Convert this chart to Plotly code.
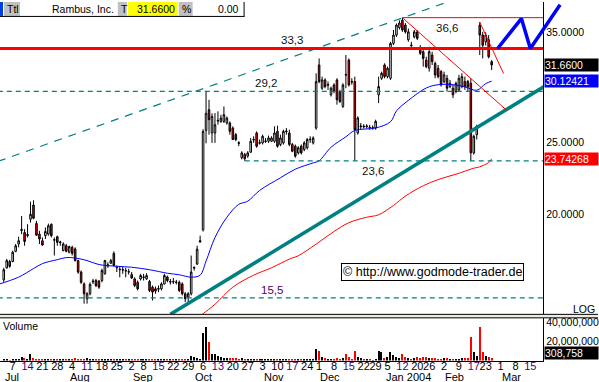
import math
import pandas as pd
import plotly.graph_objects as go

W, H = 599, 382
FONT = "Liberation Sans, Arial, sans-serif"

# ---------------- calendar (trading days) ----------------
holidays = ["2003-07-04", "2003-09-01", "2003-11-27", "2003-12-25",
            "2004-01-01", "2004-01-19", "2004-02-16"]
trading_days = [d.strftime("%Y-%m-%d") for d in pd.bdate_range("2003-06-27", "2004-03-31")]
trading_days = [d for d in trading_days if d not in holidays]
POS = {d: k for k, d in enumerate(trading_days)}

# ---------------- daily candles (Rambus, Inc.) from 2003-07-01 ----------------
first_candle = "2003-07-01"
opens = [16.38, 17.00, 17.33, 17.33, 17.88, 18.29, 19.06, 18.94, 18.76, 19.73, 20.61, 19.47, 18.85, 18.47,
         18.76, 18.85, 19.43, 18.50, 18.70, 18.36, 17.92, 18.19, 17.83, 18.10, 18.01, 17.38, 16.78, 16.18,
         15.46, 15.70, 16.28, 16.35, 16.32, 16.35, 16.69, 17.10, 17.24, 17.77, 17.00, 16.90, 16.88, 16.86,
         16.78, 16.65, 16.43, 16.26, 16.43, 16.50, 16.43, 16.30, 16.02, 15.94, 15.92, 15.94, 16.18, 16.53,
         16.27, 16.30, 16.25, 16.26, 16.18, 15.70, 15.54, 15.70, 16.98, 17.20, 18.40, 19.10, 25.90, 27.60,
         25.70, 25.70, 26.65, 26.63, 26.63, 26.50, 26.50, 26.09, 25.57, 24.95, 23.82, 24.06, 23.94, 24.23,
         25.15, 25.70, 24.90, 24.93, 25.04, 25.06, 25.06, 25.06, 25.83, 24.81, 24.93, 25.80, 25.70, 24.81,
         24.68, 24.18, 24.68, 24.43, 24.56, 25.17, 24.93, 26.09, 31.66, 29.48, 30.24, 29.75, 28.89, 29.78,
         30.24, 29.18, 27.88, 30.75, 32.14, 30.10, 30.09, 25.70, 26.20, 26.25, 26.20, 26.15, 26.10, 26.09,
         28.89, 30.39, 31.66, 30.55, 30.39, 33.82, 34.70, 35.50, 36.30, 35.78, 34.20, 33.65, 34.50, 35.04,
         33.30, 32.97, 32.14, 31.34, 32.64, 31.82, 31.34, 31.02, 30.09, 30.39, 29.63, 29.48, 29.18, 29.33,
         29.63, 30.09, 30.10, 29.93, 24.18, 25.57, 35.78, 34.70, 33.99, 34.20, 31.98]
highs = [17.00, 17.47, 17.42, 17.92, 18.29, 18.70, 19.93, 19.14, 19.43, 20.82, 20.91, 19.63, 19.04, 18.66,
         19.24, 19.47, 19.47, 18.66, 18.76, 18.47, 18.38, 18.29, 18.19, 18.19, 18.10, 17.42, 16.86, 16.26,
         15.78, 16.26, 16.43, 16.43, 16.38, 16.95, 17.42, 17.29, 17.47, 17.88, 17.12, 17.07, 17.04, 17.00,
         16.95, 16.78, 16.51, 16.35, 16.69, 16.69, 16.72, 16.38, 16.10, 16.05, 16.10, 16.26, 16.69, 16.60,
         16.43, 16.48, 16.38, 16.35, 16.26, 15.78, 15.78, 17.65, 17.07, 18.19, 18.76, 26.00, 29.20, 28.45,
         27.30, 27.32, 27.46, 27.18, 27.88, 27.04, 26.63, 26.23, 25.70, 25.06, 24.30, 24.18, 24.30, 25.31,
         25.44, 25.83, 25.19, 25.57, 25.31, 25.50, 25.44, 26.23, 26.28, 25.57, 25.96, 26.09, 25.96, 24.93,
         24.81, 24.68, 24.81, 25.06, 25.31, 25.44, 25.44, 30.86, 32.30, 30.55, 30.39, 30.09, 29.63, 29.93,
         30.39, 29.33, 29.93, 32.64, 32.30, 30.40, 30.55, 27.05, 26.50, 26.40, 26.40, 26.35, 26.30, 26.77,
         30.55, 31.02, 31.82, 31.50, 33.99, 35.24, 35.95, 36.30, 36.60, 36.00, 35.40, 33.99, 35.24, 35.24,
         33.64, 33.13, 32.47, 33.47, 32.97, 31.98, 31.66, 31.17, 31.02, 30.71, 30.24, 29.78, 30.09, 30.71,
         30.86, 30.55, 30.24, 30.39, 25.57, 26.36, 36.12, 35.04, 35.00, 34.70, 32.14]
lows = [16.26, 16.95, 17.00, 17.29, 17.83, 18.10, 18.85, 18.19, 18.66, 19.53, 19.73, 18.76, 18.29, 18.19,
        18.57, 18.76, 18.66, 17.65, 18.19, 18.19, 17.88, 17.83, 17.77, 17.65, 17.33, 16.69, 16.18, 15.23,
        15.23, 15.62, 16.18, 16.02, 15.94, 16.26, 16.65, 17.00, 17.20, 17.07, 16.78, 16.51, 16.69, 16.51,
        16.65, 16.43, 16.02, 15.86, 16.35, 16.35, 16.38, 15.78, 15.38, 15.70, 15.78, 15.86, 16.15, 16.26,
        16.15, 16.18, 16.15, 15.78, 15.62, 15.30, 15.20, 15.62, 16.86, 17.15, 18.36, 19.00, 24.90, 25.57,
        24.93, 24.93, 26.36, 26.50, 26.50, 26.36, 25.57, 25.15, 25.06, 24.68, 23.70, 23.60, 23.82, 24.18,
        24.93, 24.56, 24.81, 24.81, 24.93, 24.93, 25.00, 24.93, 24.56, 24.68, 24.81, 25.57, 24.68, 24.23,
        23.82, 24.06, 24.06, 24.30, 24.43, 24.93, 24.81, 25.96, 29.93, 29.33, 29.48, 29.33, 28.74, 29.03,
        28.03, 28.17, 27.75, 29.48, 29.63, 29.80, 23.60, 25.57, 25.96, 26.05, 26.05, 25.96, 25.96, 25.96,
        28.17, 30.24, 30.39, 30.39, 30.24, 33.65, 34.50, 35.30, 35.04, 34.85, 33.99, 33.30, 34.35, 34.17,
        32.64, 31.49, 31.34, 31.02, 31.66, 30.39, 30.39, 29.63, 29.93, 29.18, 29.48, 28.60, 29.03, 29.18,
        29.48, 29.33, 29.18, 23.60, 24.05, 25.19, 32.64, 32.30, 33.60, 32.30, 31.17]
closes = [16.90, 17.38, 17.08, 17.83, 18.19, 18.47, 19.12, 18.43, 18.82, 20.03, 19.79, 18.79, 18.57, 18.23,
          19.00, 19.34, 18.76, 18.53, 18.38, 18.40, 18.29, 17.88, 18.14, 17.77, 17.38, 16.78, 16.26, 15.70,
          15.70, 16.15, 16.32, 16.10, 16.02, 16.86, 17.38, 17.15, 17.38, 17.12, 17.03, 16.92, 16.90, 16.84,
          16.80, 16.48, 16.10, 15.94, 16.60, 16.53, 16.60, 15.86, 15.78, 15.83, 15.95, 16.18, 16.60, 16.35,
          16.30, 16.28, 16.27, 15.86, 15.70, 15.46, 15.70, 16.78, 17.02, 18.00, 18.47, 25.83, 27.30, 26.77,
          27.04, 26.36, 26.71, 26.90, 27.18, 26.90, 25.83, 25.19, 25.19, 24.90, 24.18, 23.75, 24.18, 25.06,
          25.19, 24.68, 24.95, 25.44, 25.08, 25.31, 25.31, 25.70, 24.68, 25.31, 25.83, 25.85, 24.81, 24.30,
          23.94, 24.56, 24.18, 24.93, 25.19, 25.21, 25.31, 30.09, 30.09, 30.24, 29.63, 29.80, 29.48, 29.18,
          28.46, 28.31, 29.78, 30.70, 29.78, 30.05, 25.96, 26.91, 26.25, 26.20, 26.25, 26.12, 26.12, 26.63,
          29.63, 30.86, 30.55, 31.34, 33.82, 34.70, 35.78, 36.00, 35.24, 35.04, 35.04, 33.60, 35.04, 34.35,
          32.81, 32.30, 31.49, 32.97, 31.98, 30.71, 30.55, 29.78, 30.71, 29.48, 29.93, 28.89, 29.93, 30.39,
          30.55, 29.63, 29.60, 24.18, 25.44, 26.23, 34.70, 33.64, 34.70, 32.47, 31.66]
volume_mln = [1.2, 1.0, 0.8, 1.3, 1.2, 1.5, 3.5, 2.8, 1.5, 7.5, 2.5, 2.0, 1.5, 1.3, 1.2, 1.5, 1.4, 1.2,
              1.3, 1.1, 1.2, 1.1, 1.0, 1.2, 2.5, 2.0, 2.3, 2.0, 2.5, 1.5, 1.2, 1.0, 1.1, 1.4, 1.6, 1.0,
              1.1, 2.2, 1.4, 1.1, 1.0, 1.0, 0.9, 1.2, 1.4, 1.5, 1.2, 1.0, 1.0, 1.4, 1.7, 1.3, 1.0, 1.1,
              1.5, 1.2, 1.0, 1.0, 0.9, 1.6, 1.8, 2.0, 1.6, 5.0, 3.5, 2.4, 2.0, 29.0, 36.0, 20.0, 7.6, 7.0,
              5.0, 3.5, 3.0, 3.0, 2.8, 2.5, 2.5, 2.3, 2.6, 2.0, 1.8, 2.0, 1.5, 2.2, 1.5, 1.3, 1.5, 1.2,
              1.4, 1.6, 2.0, 1.5, 1.8, 1.3, 1.6, 1.4, 1.8, 1.2, 1.4, 1.3, 1.5, 1.2, 1.4, 12.5, 10.0, 3.5,
              2.5, 2.0, 1.8, 2.0, 2.5, 2.2, 3.0, 7.5, 3.5, 2.0, 10.0, 3.5, 2.5, 1.5, 1.2, 1.0, 0.8, 1.5,
              10.0, 9.0, 2.5, 3.5, 9.0, 6.5, 3.5, 3.0, 7.5, 3.5, 2.5, 2.0, 3.0, 3.5, 3.0, 3.5, 3.5, 3.0,
              2.5, 2.5, 2.0, 2.0, 2.5, 2.5, 2.0, 1.8, 2.0, 2.0, 2.5, 2.5, 3.0, 24.5, 9.0, 5.0, 36.0, 9.3,
              5.0, 4.0, 3.0]

# ---------------- indicator lines ----------------
ma_blue_dates = ["2003-06-27", "2003-07-09", "2003-07-16", "2003-07-21", "2003-07-28", "2003-07-31",
                 "2003-08-05", "2003-08-11", "2003-08-15", "2003-08-25", "2003-09-02", "2003-09-10",
                 "2003-09-18", "2003-09-24", "2003-09-30", "2003-10-03", "2003-10-07", "2003-10-10",
                 "2003-10-16", "2003-10-22", "2003-10-27", "2003-10-31", "2003-11-11", "2003-11-18",
                 "2003-11-26", "2003-12-01", "2003-12-05", "2003-12-12", "2003-12-17", "2003-12-29",
                 "2004-01-06", "2004-01-08", "2004-01-14", "2004-01-23", "2004-01-29", "2004-02-05",
                 "2004-02-11", "2004-02-18", "2004-02-23", "2004-02-25"]
ma_blue_values = [16.15, 16.52, 16.96, 17.22, 17.43, 17.54, 17.52, 17.38, 17.17, 17.08, 17.03, 16.90,
                  16.72, 16.64, 16.52, 16.62, 17.35, 18.65, 19.85, 20.65, 20.85, 21.55, 22.4, 23.0,
                  23.45, 23.6, 24.6, 25.4, 25.9, 26.1, 26.6, 27.5, 28.4, 29.5, 29.8, 29.8, 29.6, 29.3,
                  29.9, 30.12421]
ma_red_dates = ["2003-10-02", "2003-10-06", "2003-10-10", "2003-10-20", "2003-10-29", "2003-11-06",
                "2003-11-14", "2003-11-19", "2003-11-28", "2003-12-08", "2003-12-15", "2003-12-23",
                "2003-12-30", "2004-01-07", "2004-01-13", "2004-01-22", "2004-01-29", "2004-02-06",
                "2004-02-17", "2004-02-19", "2004-02-24", "2004-02-25"]
ma_red_values = [14.57, 14.77, 15.2, 16.02, 16.62, 17.0, 17.46, 17.64, 18.28, 19.0, 19.52, 19.85, 20.0,
                 20.58, 21.18, 21.86, 22.28, 22.65, 23.07, 23.17, 23.48, 23.74268]

support_dates, support_values = ["2003-09-19", "2004-03-22"], [14.74, 29.69]
channel_dates, channel_values = ["2003-06-27", "2004-02-05"], [23.55, 38.64]
down1_dates, down1_values = ["2004-01-12", "2004-03-03"], [36.6, 27.56]
down2_dates, down2_values = ["2004-02-19", "2004-03-02"], [36.1, 30.84]
zigzag_dates = ["2004-02-27", "2004-03-10", "2004-03-15", "2004-03-29"]
zigzag_values = [33.3, 36.5, 33.3, 38.07]

level_labels = ["36,6", "33,3", "29,2", "23,6", "15,5"]
level_values = [36.6, 33.3, 29.2, 23.6, 15.5]
level_label_dates = ["2004-02-03", "2003-11-17", "2003-11-04", "2003-12-26", "2003-11-06"]
level_starts = ["2004-01-12", "2003-06-27", "2003-06-27", "2003-10-24", "2003-06-27"]
level_end = "2004-03-22"

price_ticks = [20, 25, 35]
price_tick_text = ["20.0000", "25.0000", "35.0000"]
vol_ticks = [20, 40]
vol_tick_text = ["20,000,000", "40,000,000"]

week_ticks = ["2003-07-07", "2003-07-14", "2003-07-21", "2003-07-28", "2003-08-04", "2003-08-11",
              "2003-08-18", "2003-08-25", "2003-09-02", "2003-09-08", "2003-09-15", "2003-09-22",
              "2003-09-29", "2003-10-06", "2003-10-13", "2003-10-20", "2003-10-27", "2003-11-03",
              "2003-11-10", "2003-11-17", "2003-11-24", "2003-12-01", "2003-12-08", "2003-12-15",
              "2003-12-22", "2003-12-29", "2004-01-05", "2004-01-12", "2004-01-20", "2004-01-26",
              "2004-02-02", "2004-02-09", "2004-02-17", "2004-02-23", "2004-03-01", "2004-03-08",
              "2004-03-15"]
expiry_weeks = ["2003-07-14", "2003-08-11", "2003-09-15", "2003-10-13", "2003-11-17", "2003-12-15",
                "2004-01-12", "2004-02-17", "2004-03-15"]
month_labels = ["Jul", "Aug", "Sep", "Oct", "Nov", "Dec", "Jan 2004", "Feb", "Mar"]
month_starts = ["2003-07-01", "2003-08-01", "2003-09-02", "2003-10-01", "2003-11-03", "2003-12-01",
                "2004-01-02", "2004-02-02", "2004-03-01"]

last_close, last_ma_blue, last_ma_red, last_volume = 31.66, 30.12421, 23.74268, "308,758"

# ---------------- geometry ----------------
def px(x):
    return x / W

def py(y):
    return 1 - y / H

def X(dates):
    return [POS[d] for d in dates]

PX_PER_DAY = 2.98
X0 = POS["2003-07-07"] - 12.7 / PX_PER_DAY
X_RANGE = [X0, X0 + 544 / PX_PER_DAY]
X3_RANGE = [X0, X0 + W / PX_PER_DAY]
Y_RANGE = [math.log10(14.739), math.log10(38.40)]

TEAL = "#008080"
RED = "#ff0000"
BLUE = "#0000ff"
PURPLE = "#4b0070"

s = POS[first_candle]
cx = list(range(s, s + len(opens)))

fig = go.Figure()

fig.add_trace(go.Candlestick(
    x=cx, open=opens, high=highs, low=lows, close=closes, xaxis="x", yaxis="y",
    increasing=dict(line=dict(color="black", width=1), fillcolor="white"),
    decreasing=dict(line=dict(color="black", width=1), fillcolor=RED),
    whiskerwidth=0, showlegend=False, hoverinfo="skip"))


def line(dates, values, color, width, dash="solid", shape="linear", axes=("x", "y")):
    fig.add_trace(go.Scatter(x=X(dates), y=values, mode="lines", xaxis=axes[0], yaxis=axes[1],
                             line=dict(color=color, width=width, dash=dash, shape=shape),
                             showlegend=False, hoverinfo="skip"))


line(ma_blue_dates, ma_blue_values, BLUE, 1, shape="spline")
line(ma_red_dates, ma_red_values, RED, 1, shape="spline")
line(channel_dates, channel_values, TEAL, 1.2, dash="8px,7px")
for lab, val, st in zip(level_labels, level_values, level_starts):
    if lab == "33,3":
        line([st, level_end], [val, val], RED, 3)
    elif lab == "36,6":
        line([st, level_end], [val, val], RED, 1)
    else:
        line([st, level_end], [val, val], TEAL, 1.2, dash="5px,4px")
line(support_dates, support_values, TEAL, 3.5)
line(down1_dates, down1_values, RED, 1)
line(down2_dates, down2_values, RED, 1)
line(zigzag_dates, zigzag_values, BLUE, 3.5, axes=("x3", "y3"))

vol_colors = ["black" if c >= o else RED for o, c in zip(opens, closes)]
fig.add_trace(go.Bar(x=cx, y=volume_mln, xaxis="x2", yaxis="y2", width=0.4,
                     marker=dict(color=vol_colors, line=dict(width=0)),
                     showlegend=False, hoverinfo="skip"))

tick_text = []
for d in week_ticks:
    day = str(int(d[-2:]))
    tick_text.append(f'<span style="color:{PURPLE}">{day}</span>' if d in expiry_weeks else day)

annotations = []
# level labels
for lab, val, d in zip(level_labels, level_values, level_label_dates):
    below = lab in ("36,6", "23,6")
    annotations.append(dict(
        x=POS[d], y=math.log10(val), xref="x", yref="y", text=lab, showarrow=False,
        xanchor="center", yanchor="top" if below else "bottom", yshift=-2 if below else 0,
        font=dict(family=FONT, size=11.5, color=PURPLE if lab == "15,5" else "#101010")))

# price boxes on the right
for val, txt, bg in [(last_close, "31.6600", "black"), (last_ma_blue, "30.12421", BLUE),
                     (last_ma_red, "23.74268", RED)]:
    annotations.append(dict(x=px(545), y=math.log10(val), xref="paper", yref="y", text=txt,
                            xanchor="left", yanchor="middle", showarrow=False, align="left",
                            width=53, bgcolor=bg, borderpad=0,
                            font=dict(family=FONT, size=10.5, color="white")))
annotations.append(dict(x=px(545), y=py(352.8), xref="paper", yref="paper", text=last_volume,
                        xanchor="left", yanchor="middle", showarrow=False, align="left",
                        width=53, bgcolor="black", borderpad=0,
                        font=dict(family=FONT, size=10.5, color="white")))
annotations.append(dict(x=px(598), y=py(308.5), xref="paper", yref="paper", text="LOG",
                        xanchor="right", yanchor="middle", showarrow=False,
                        font=dict(family=FONT, size=10.5, color="black")))
annotations.append(dict(x=px(1), y=py(325.5), xref="paper", yref="paper", text="Volume",
                        xanchor="left", yanchor="middle", showarrow=False,
                        font=dict(family=FONT, size=10.5, color="black")))
# watermark
annotations.append(dict(x=px(433), y=py(271), xref="paper", yref="paper",
                        text="\u00a9 http://www.godmode-trader.de", showarrow=False,
                        xanchor="center", yanchor="middle",
                        bgcolor="white", bordercolor="black", borderwidth=1, borderpad=1,
                        font=dict(family=FONT, size=12.5, color="black")))
# month labels
for m, d in zip(month_labels, month_starts):
    annotations.append(dict(x=POS[d], y=py(377), xref="x2", yref="paper", text=m, xanchor="left",
                            yanchor="middle", xshift=-1, showarrow=False,
                            font=dict(family=FONT, size=11, color="black")))
# header bar
for txt, x, anchor in [("Ttl", 5, "left"), ("Rambus, Inc.", 116, "right"), ("T", 119, "left"),
                       ("31.6600", 177, "right"), ("%", 180, "left"), ("0.00", 241, "right")]:
    annotations.append(dict(x=px(x), y=py(7), xref="paper", yref="paper", text=txt, xanchor=anchor,
                            yanchor="middle", showarrow=False,
                            font=dict(family=FONT, size=10.5, color="black")))

shapes = [
    dict(type="rect", xref="paper", yref="paper", x0=px(0), x1=px(3), y0=py(0), y1=py(14),
         fillcolor="#0040e0", line=dict(width=0)),
    dict(type="rect", xref="paper", yref="paper", x0=px(4), x1=px(20), y0=py(0), y1=py(14),
         fillcolor="#c0c0c0", line=dict(width=0)),
    dict(type="rect", xref="paper", yref="paper", x0=px(118), x1=px(127), y0=py(0), y1=py(14),
         fillcolor="#c0c0c0", line=dict(width=0)),
    dict(type="rect", xref="paper", yref="paper", x0=px(128), x1=px(178), y0=py(0), y1=py(14),
         fillcolor="#ffff00", line=dict(width=0)),
    dict(type="rect", xref="paper", yref="paper", x0=px(179), x1=px(193), y0=py(0), y1=py(14),
         fillcolor="#c0c0c0", line=dict(width=0)),
    dict(type="line", xref="paper", yref="paper", x0=px(0), x1=px(245), y0=py(14.5), y1=py(14.5),
         line=dict(color="black", width=1)),
    dict(type="line", xref="paper", yref="paper", x0=px(244.5), x1=px(244.5), y0=py(0), y1=py(14.5),
         line=dict(color="black", width=1)),
    # pane separator
    dict(type="rect", xref="paper", yref="paper", x0=0, x1=1, y0=py(314), y1=py(317.5),
         fillcolor="#ecebe4", line=dict(width=0), layer="above"),
    dict(type="line", xref="paper", yref="paper", x0=0, x1=1, y0=py(314), y1=py(314),
         line=dict(color="black", width=1), layer="above"),
    dict(type="line", xref="paper", yref="paper", x0=0, x1=1, y0=py(317.5), y1=py(317.5),
         line=dict(color="black", width=1), layer="above"),
]

fig.update_layout(
    width=W, height=H, margin=dict(l=0, r=0, t=0, b=0), autosize=False,
    paper_bgcolor="white", plot_bgcolor="rgba(0,0,0,0)", hovermode=False,
    boxgap=0.25, bargap=0, showlegend=False,
    font=dict(family=FONT, size=10.5, color="black"),
    xaxis=dict(domain=[0, 544 / W], range=X_RANGE, visible=True, showticklabels=False,
               showgrid=False, zeroline=False, showline=False, ticks="",
               rangeslider=dict(visible=False), anchor="y"),
    yaxis=dict(domain=[py(314), 1], type="log", range=Y_RANGE, side="right", anchor="x",
               tickvals=price_ticks, ticktext=price_tick_text, ticks="", ticklen=0,
               showgrid=False, zeroline=False, showline=True, linecolor="black", linewidth=1,
               tickfont=dict(family=FONT, size=10.5, color="black")),
    xaxis2=dict(domain=[0, 544 / W], range=X_RANGE, anchor="y2", tickvals=X(week_ticks),
                ticktext=tick_text, ticks="", ticklen=0, ticklabelstandoff=-5,
                showgrid=False, zeroline=False,
                showline=True, linecolor="black", linewidth=1, tickangle=0,
                tickfont=dict(family=FONT, size=11, color="black")),
    yaxis2=dict(domain=[py(360.5), py(317.5)], range=[0, 45], side="right", anchor="x2",
                tickvals=vol_ticks, ticktext=vol_tick_text, ticks="", ticklen=0,
                showgrid=False, zeroline=False, showline=True, linecolor="black", linewidth=1,
                tickfont=dict(family=FONT, size=10.5, color="black")),
    xaxis3=dict(domain=[0, 1], range=X3_RANGE, anchor="y3", visible=False),
    yaxis3=dict(domain=[py(314), 1], type="log", range=Y_RANGE, anchor="x3", visible=False),
    annotations=annotations, shapes=shapes,
)

fig.write_html("out.html", config={"displayModeBar": False},
               post_script="document.body.style.margin='0px';document.body.style.overflow='hidden';")
